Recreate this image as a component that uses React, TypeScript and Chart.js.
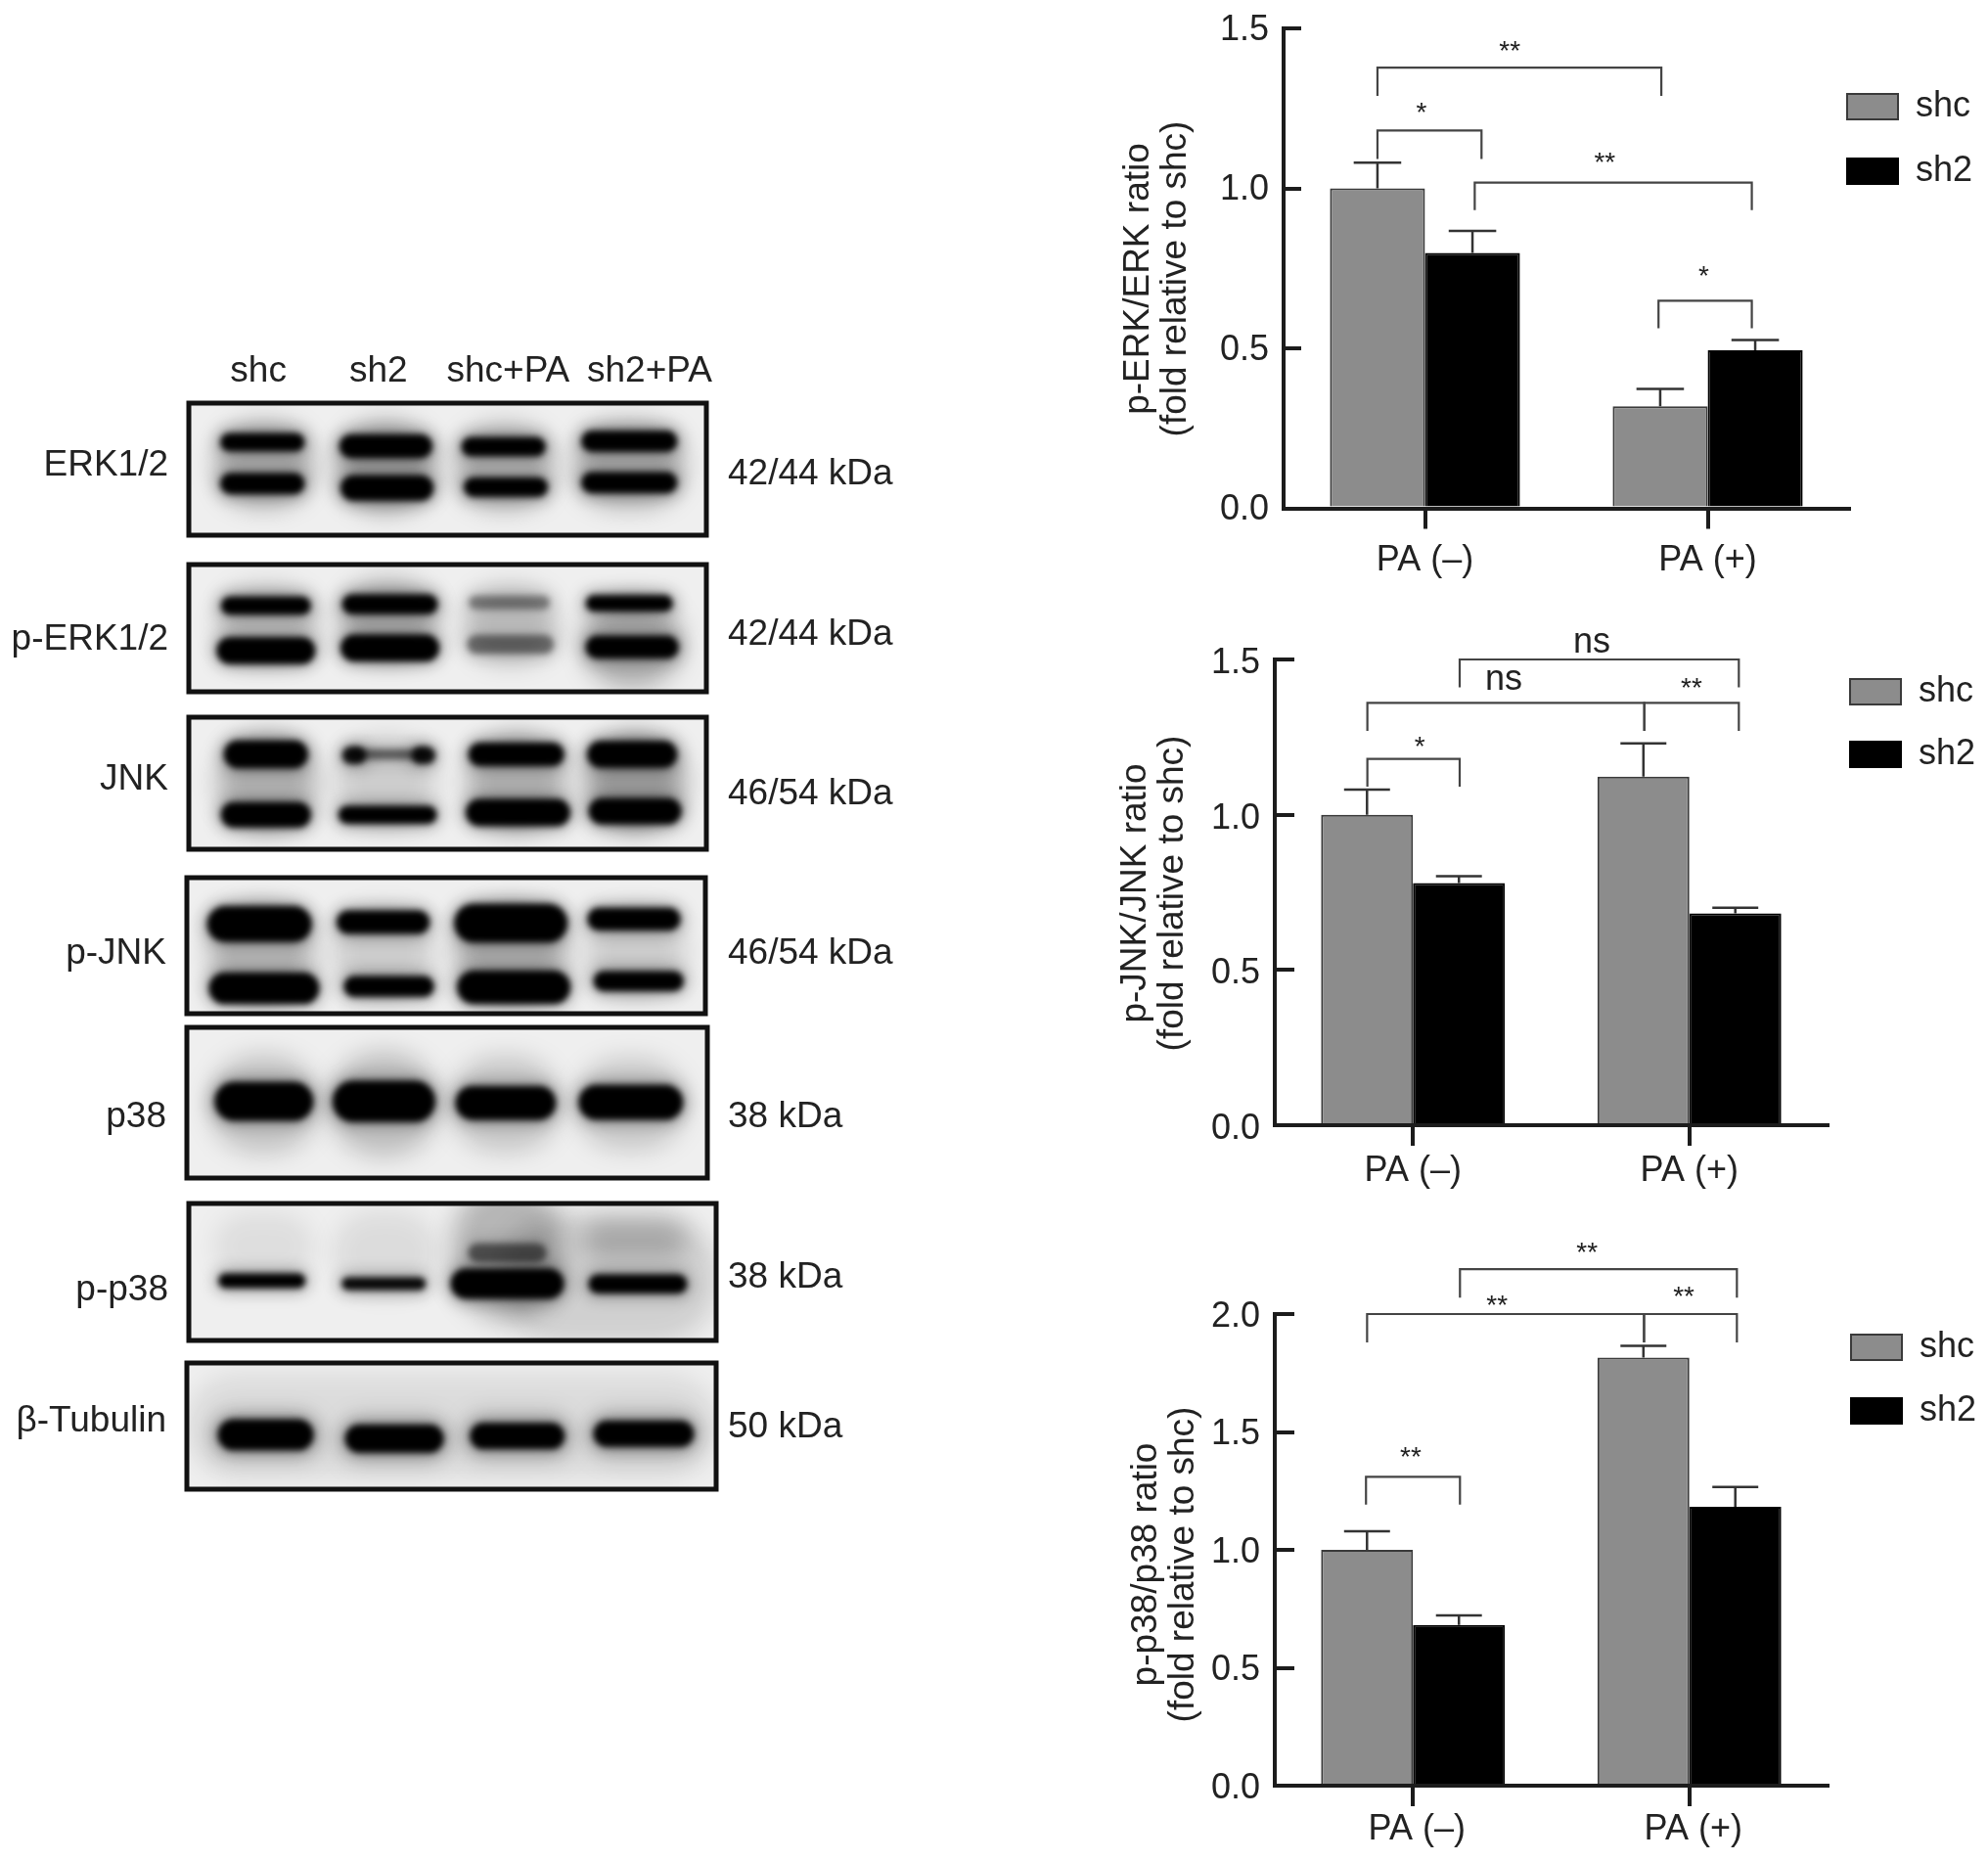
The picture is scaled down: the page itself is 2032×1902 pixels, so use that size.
import React, { useEffect, useRef } from "react";
import { Chart, registerables } from "chart.js";

Chart.register(...registerables);
Chart.defaults.font.family = '"Liberation Sans"';
Chart.defaults.color = "#222";

// ---------- bar chart data ----------
const categories = ["PA (–)", "PA (+)"];
const seriesNames = ["shc", "sh2"];

const erkShc = [1.0, 0.319];
const erkSh2 = [0.798, 0.494];
const erkShcTop = [1.08, 0.373];
const erkSh2Top = [0.867, 0.526];

const jnkShc = [1.0, 1.123];
const jnkSh2 = [0.78, 0.682];
const jnkShcTop = [1.081, 1.23];
const jnkSh2Top = [0.802, 0.7];

const p38Shc = [1.0, 1.815];
const p38Sh2 = [0.682, 1.183];
const p38ShcTop = [1.079, 1.865];
const p38Sh2Top = [0.722, 1.267];

// brackets: from category, to category, top value, drop value, label, label category, label value
type Bracket = [number, number, number, number, string, number, number];
const erkBrackets: Bracket[] = [
  [-0.168, 0.836, 1.377, 1.289, "**", 0.3, 1.44],
  [-0.168, 0.2, 1.181, 1.092, "*", -0.012, 1.248],
  [0.176, 1.156, 1.018, 0.932, "**", 0.636, 1.092],
  [0.826, 1.156, 0.649, 0.563, "*", 0.986, 0.736],
];
const jnkBrackets: Bracket[] = [
  [-0.165, 0.169, 1.18, 1.09, "*", 0.025, 1.23],
  [-0.165, 0.837, 1.36, 1.27, "ns", 0.328, 1.432],
  [0.837, 1.179, 1.36, 1.27, "**", 1.008, 1.42],
  [0.169, 1.179, 1.5, 1.41, "ns", 0.647, 1.55],
];
const p38Brackets: Bracket[] = [
  [-0.17, 0.17, 1.31, 1.192, "**", -0.008, 1.41],
  [-0.166, 0.836, 2.0, 1.88, "**", 0.304, 2.052],
  [0.836, 1.172, 2.0, 1.88, "**", 0.98, 2.087],
  [0.17, 1.172, 2.19, 2.07, "**", 0.63, 2.276],
];

// ---------- blot data: [lane position, migration position, band length, band thickness, density] ----------
type Band = [number, number, number, number, number];
const erkBands: Band[] = [
  [455, 295, 170, 190, 0.26], [665, 300, 170, 200, 0.3], [870, 300, 170, 190, 0.24], [1085, 295, 190, 190, 0.26],
  [452, 245, 140, 34, 1], [665, 254, 155, 46, 1], [868, 255, 140, 36, 1], [1085, 243, 160, 40, 1],
  [452, 337, 140, 40, 1], [667, 347, 155, 50, 1], [872, 345, 140, 36, 1], [1085, 335, 160, 40, 1],
];
const pErkBands: Band[] = [
  [460, 650, 170, 170, 0.2], [670, 640, 165, 180, 0.26], [880, 650, 160, 170, 0.2], [1090, 690, 170, 200, 0.28],
  [458, 607, 150, 34, 1], [672, 604, 160, 38, 1], [878, 600, 135, 24, 0.38], [1085, 602, 145, 30, 1],
  [458, 708, 165, 54, 1], [672, 702, 165, 54, 1], [880, 694, 145, 36, 0.45], [1090, 700, 155, 44, 1],
];
const jnkBands: Band[] = [
  [460, 1000, 170, 220, 0.26], [665, 1000, 170, 200, 0.14], [890, 1000, 170, 220, 0.26], [1095, 1000, 170, 220, 0.34],
  [458, 938, 140, 56, 1], [610, 940, 36, 32, 0.9], [730, 940, 36, 32, 0.9], [670, 938, 130, 16, 0.5],
  [890, 938, 160, 46, 1], [1090, 938, 150, 54, 1],
  [458, 1073, 150, 50, 1], [668, 1073, 165, 34, 1], [893, 1068, 175, 54, 1], [1095, 1065, 155, 52, 1],
];
const pJnkBands: Band[] = [
  [450, 1380, 180, 220, 0.24], [660, 1380, 170, 200, 0.14], [880, 1380, 190, 220, 0.28], [1095, 1380, 170, 200, 0.14],
  [447, 1316, 175, 74, 1], [660, 1312, 155, 46, 1], [880, 1314, 190, 80, 1], [1092, 1305, 155, 44, 1],
  [455, 1460, 185, 64, 1], [670, 1456, 150, 40, 1], [885, 1458, 190, 68, 1], [1100, 1444, 150, 38, 1],
];
const p38Bands: Band[] = [
  [455, 265, 190, 300, 0.18], [662, 265, 190, 320, 0.2], [872, 265, 190, 290, 0.17], [1088, 265, 190, 280, 0.16],
  [455, 257, 165, 110, 1], [662, 257, 172, 118, 1], [872, 262, 168, 95, 1], [1088, 260, 175, 98, 1],
];
const pP38Bands: Band[] = [
  [1050, 800, 380, 400, 0.13], [455, 700, 170, 200, 0.07], [665, 720, 180, 250, 0.08],
  [875, 720, 190, 420, 0.24], [875, 720, 130, 50, 0.5], [1095, 680, 180, 120, 0.2],
  [452, 806, 145, 36, 1], [662, 815, 140, 30, 0.95], [875, 815, 190, 84, 1], [1100, 816, 165, 50, 1],
];
const tubulinBands: Band[] = [
  [780, 1250, 920, 320, 0.08], [458, 1285, 190, 150, 0.14], [680, 1295, 190, 150, 0.14], [892, 1285, 190, 150, 0.14], [1110, 1280, 190, 150, 0.14],
  [458, 1278, 160, 88, 1], [680, 1290, 165, 78, 1], [892, 1282, 158, 72, 1], [1110, 1275, 168, 72, 1],
];

const laneNames = ["shc", "sh2", "shc+PA", "sh2+PA"];
const laneCentres = [445, 652, 876, 1120];

const BLOT_FONT = 37;
const TICK_FONT = 36;
const INK = "#1c1c1c";

// ---------- plugins ----------
const blotPlugin = {
  id: "blotBands",
  beforeDatasetsDraw(chart: any) {
    const { ctx, chartArea: a, scales } = chart;
    ctx.save();
    ctx.beginPath();
    ctx.rect(a.left, a.top, a.right - a.left, a.bottom - a.top);
    ctx.clip();
    ctx.fillStyle = "#efefef";
    ctx.fillRect(a.left, a.top, a.right - a.left, a.bottom - a.top);
    const bands = chart.data.datasets[0].data;
    const blob = (b: any, grow: number, alpha: number, blur: number) => {
      const x0 = scales.x.getPixelForValue(b.x - b.w / 2) - grow;
      const x1 = scales.x.getPixelForValue(b.x + b.w / 2) + grow;
      const y0 = scales.y.getPixelForValue(b.y - b.h / 2) - grow;
      const y1 = scales.y.getPixelForValue(b.y + b.h / 2) + grow;
      ctx.filter = `blur(${blur}px)`;
      ctx.fillStyle = `rgba(0,0,0,${alpha})`;
      ctx.beginPath();
      ctx.roundRect(x0, y0, x1 - x0, y1 - y0, Math.min(x1 - x0, y1 - y0) / 2);
      ctx.fill();
    };
    for (const b of bands) {
      if (b.d < 0.35) {
        blob(b, 0, b.d, 12);
      } else {
        blob(b, 5, 0.35 * b.d, 8);
        blob(b, 1.5, b.d, 3.2);
      }
    }
    ctx.filter = "none";
    ctx.restore();
    ctx.save();
    ctx.strokeStyle = "#111";
    ctx.lineWidth = 5;
    ctx.strokeRect(a.left, a.top, a.right - a.left, a.bottom - a.top);
    ctx.restore();
  },
};

const labelRoomPlugin = {
  id: "labelRoom",
  // Chart.js clips tick labels to the scale box: open the boxes up to the canvas edges.
  afterLayout(chart: any) {
    for (const s of Object.values(chart.scales) as any[]) {
      if (s.position === "left") s.left = 0;
      if (s.position === "right") s.right = chart.width;
      if (s.position === "top") s.top = 0;
      if (s.position === "bottom") s.bottom = chart.height;
    }
  },
};

const errorPlugin = {
  id: "errorBars",
  afterDatasetsDraw(chart: any) {
    const { ctx, scales } = chart;
    ctx.save();
    ctx.strokeStyle = "#333";
    ctx.lineWidth = 2.5;
    chart.data.datasets.forEach((ds: any, i: number) => {
      chart.getDatasetMeta(i).data.forEach((bar: any, j: number) => {
        const yTop = scales.y.getPixelForValue(ds.errorTops[j]);
        const half = bar.width / 4;
        ctx.beginPath();
        ctx.moveTo(bar.x, bar.y);
        ctx.lineTo(bar.x, yTop);
        ctx.moveTo(bar.x - half, yTop);
        ctx.lineTo(bar.x + half, yTop);
        ctx.stroke();
      });
    });
    ctx.restore();
  },
};

const bracketPlugin = {
  id: "brackets",
  afterDatasetsDraw(chart: any, _a: any, opts: any) {
    const { ctx, scales } = chart;
    ctx.save();
    ctx.strokeStyle = "#444";
    ctx.fillStyle = "#222";
    ctx.lineWidth = 2.2;
    ctx.textAlign = "center";
    ctx.textBaseline = "alphabetic";
    for (const [c0, c1, top, drop, label, lc, lv] of opts.items as Bracket[]) {
      const x0 = scales.x.getPixelForValue(c0);
      const x1 = scales.x.getPixelForValue(c1);
      const yt = scales.y.getPixelForValue(top);
      const yd = scales.y.getPixelForValue(drop);
      ctx.beginPath();
      ctx.moveTo(x0, yd);
      ctx.lineTo(x0, yt);
      ctx.lineTo(x1, yt);
      ctx.lineTo(x1, yd);
      ctx.stroke();
      const stars = label.includes("*");
      const size = stars ? 28 : 36;
      ctx.font = `${size}px "Liberation Sans"`;
      ctx.fillText(
        label,
        scales.x.getPixelForValue(lc),
        scales.y.getPixelForValue(lv) + size * (stars ? 0.44 : 0.26)
      );
    }
    ctx.restore();
  },
};

const legendPlacePlugin = {
  id: "legendPlace",
  afterLayout(chart: any, _a: any, opts: any) {
    const l = chart.legend;
    const w = l.width;
    const h = l.height + 40;
    l.left = opts.left;
    l.right = opts.left + w;
    l.top = opts.top;
    l.bottom = opts.top + h;
  },
};

// ---------- components ----------
function BlotPanel(props: {
  bands: Band[];
  xRange: number[];
  yRange: number[];
  box: number[];
  name: string;
  nameAt: number;
  size: string;
  sizeAt: number;
  lanes?: boolean;
}) {
  const ref = useRef<HTMLCanvasElement>(null);
  const { bands, xRange, yRange, box, name, nameAt, size, sizeAt, lanes } = props;
  const [left, top, right, bottom] = box;
  const margin = 70;
  const W = 930;
  useEffect(() => {
    const chart = new Chart(ref.current as any, {
      type: "scatter",
      data: {
        datasets: [
          {
            data: bands.map(([x, y, w, h, d]) => ({ x, y, w, h, d })) as any,
            pointRadius: 0,
            showLine: false,
          },
        ],
      },
      plugins: [blotPlugin, labelRoomPlugin],
      options: {
        animation: false,
        responsive: false,
        layout: {
          autoPadding: false,
          padding: { left, right: W - right, top: margin, bottom: margin },
        },
        plugins: { legend: { display: false }, tooltip: { enabled: false } },
        scales: {
          x: {
            type: "linear",
            position: "top",
            display: !!lanes,
            min: xRange[0],
            max: xRange[1],
            border: { display: false },
            grid: { display: false, drawTicks: false },
            afterBuildTicks: (s: any) => {
              s.ticks = laneCentres.map((value) => ({ value }));
            },
            afterFit: (s: any) => {
              s.height = 0;
            },
            ticks: {
              autoSkip: false,
              maxRotation: 0,
              padding: 10,
              font: { size: BLOT_FONT },
              color: "#222",
              callback: (v: any) => laneNames[laneCentres.indexOf(v)],
            },
          },
          y: {
            type: "linear",
            position: "left",
            reverse: true,
            min: yRange[0],
            max: yRange[1],
            border: { display: false },
            grid: { display: false, drawTicks: false },
            afterBuildTicks: (s: any) => {
              s.ticks = [{ value: nameAt }];
            },
            afterFit: (s: any) => {
              s.width = 0;
            },
            ticks: {
              autoSkip: false,
              padding: 21,
              labelOffset: 2,
              font: { size: BLOT_FONT },
              color: "#222",
              callback: () => name,
            },
          },
          yr: {
            type: "linear",
            position: "right",
            reverse: true,
            min: yRange[0],
            max: yRange[1],
            border: { display: false },
            grid: { display: false, drawTicks: false },
            afterBuildTicks: (s: any) => {
              s.ticks = [{ value: sizeAt }];
            },
            afterFit: (s: any) => {
              s.width = 0;
            },
            ticks: {
              autoSkip: false,
              padding: 744 - right,
              labelOffset: 2,
              font: { size: BLOT_FONT },
              color: "#222",
              callback: () => size,
            },
          },
        },
      } as any,
    });
    return () => chart.destroy();
  }, []);
  return (
    <canvas
      ref={ref}
      width={W}
      height={bottom - top + 2 * margin}
      style={{ position: "absolute", left: 0, top: top - margin, width: W, height: bottom - top + 2 * margin }}
    />
  );
}

function BarPanel(props: {
  shc: number[];
  sh2: number[];
  shcTop: number[];
  sh2Top: number[];
  brackets: Bracket[];
  title: string[];
  yMax: number;
  geom: {
    L: number;
    axisX: number;
    axisEnd: number;
    A: number;
    B: number;
    C: number;
    R: number;
    tick: number;
    xPad: number;
    xShift: number;
    yShift: number;
    catPct: number;
    swatchX: number;
    swatchY: number;
    rowPad: number;
  };
}) {
  const ref = useRef<HTMLCanvasElement>(null);
  const { shc, sh2, shcTop, sh2Top, brackets, title, yMax, geom } = props;
  const { L, axisX, axisEnd, A, B, C, R, tick, xPad, xShift, yShift, catPct, swatchX, swatchY, rowPad } = geom;
  const W = 2032 - L;
  const H = 2 * R;
  const canvasTop = C - R;
  const lineH = 38;
  const titleW = 2 * lineH;
  const pad = A - canvasTop;
  useEffect(() => {
    const chart = new Chart(ref.current as any, {
      type: "bar",
      data: {
        labels: categories,
        datasets: [
          {
            label: seriesNames[0],
            data: shc,
            errorTops: shcTop,
            backgroundColor: "#8c8c8c",
            borderColor: "#3a3a3a",
            borderWidth: 2,
            barPercentage: 1,
            categoryPercentage: catPct,
          },
          {
            label: seriesNames[1],
            data: sh2,
            errorTops: sh2Top,
            backgroundColor: "#000",
            borderColor: "#000",
            borderWidth: 2,
            barPercentage: 1,
            categoryPercentage: catPct,
          },
        ] as any,
      },
      plugins: [errorPlugin, bracketPlugin, legendPlacePlugin, labelRoomPlugin],
      options: {
        animation: false,
        responsive: false,
        layout: {
          autoPadding: false,
          padding: { left: 0, right: 2032 - axisEnd, top: pad, bottom: pad },
        },
        plugins: {
          tooltip: { enabled: false },
          title: {
            display: true,
            position: "left",
            text: title,
            color: "#222",
            padding: 0,
            font: { size: 37, lineHeight: lineH / 37, weight: "normal" },
          },
          legend: {
            display: true,
            position: "chartArea",
            align: "start",
            labels: {
              boxWidth: 52,
              boxHeight: 26,
              padding: rowPad,
              color: "#222",
              font: { size: 36 },
            },
          },
          legendPlace: {
            left: swatchX - L - rowPad,
            top: swatchY - canvasTop - rowPad - 5,
          },
          brackets: { items: brackets },
        },
        scales: {
          x: {
            type: "category",
            offset: true,
            border: { color: INK, width: 4 },
            grid: {
              offset: false,
              drawOnChartArea: false,
              drawTicks: true,
              tickLength: 21,
              tickWidth: 4,
              tickColor: INK,
              lineWidth: 4,
              color: INK,
            },
            afterFit: (s: any) => {
              s.height = 2 * C - A - B;
            },
            ticks: {
              autoSkip: false,
              maxRotation: 0,
              padding: xPad,
              labelOffset: xShift,
              font: { size: TICK_FONT },
              color: "#222",
            },
          },
          y: {
            type: "linear",
            min: 0,
            max: yMax,
            border: { color: INK, width: 4 },
            grid: {
              drawOnChartArea: false,
              drawTicks: true,
              tickLength: -tick,
              tickWidth: 4,
              tickColor: INK,
              lineWidth: 4,
              color: INK,
            },
            afterFit: (s: any) => {
              s.width = axisX - L - titleW;
            },
            ticks: {
              stepSize: 0.5,
              padding: tick + 15,
              labelOffset: yShift,
              font: { size: TICK_FONT },
              color: "#222",
              callback: (v: any) => Number(v).toFixed(1),
            },
          },
        },
      } as any,
    });
    return () => chart.destroy();
  }, []);
  return (
    <canvas
      ref={ref}
      width={W}
      height={H}
      style={{ position: "absolute", left: L, top: canvasTop, width: W, height: H }}
    />
  );
}

export default function App() {
  return (
    <div
      style={{
        position: "absolute",
        left: 0,
        top: 0,
        width: 2032,
        height: 1902,
        overflow: "hidden",
        background: "#fff",
      }}
    >
      <BlotPanel bands={erkBands} xRange={[325, 1218]} yRange={[158, 452]} box={[193, 412, 722, 547]} name="ERK1/2" nameAt={293} size="42/44 kDa" sizeAt={313} lanes />
      <BlotPanel bands={pErkBands} xRange={[325, 1218]} yRange={[515, 800]} box={[193, 577, 722, 707]} name="p-ERK1/2" nameAt={680} size="42/44 kDa" sizeAt={668} />
      <BlotPanel bands={jnkBands} xRange={[325, 1218]} yRange={[855, 1150]} box={[193, 733, 722, 868]} name="JNK" nameAt={990} size="46/54 kDa" sizeAt={1022} />
      <BlotPanel bands={pJnkBands} xRange={[322, 1215]} yRange={[1212, 1517]} box={[191, 897, 721, 1036]} name="p-JNK" nameAt={1378} size="46/54 kDa" sizeAt={1378} />
      <BlotPanel bands={p38Bands} xRange={[322, 1220]} yRange={[30, 492]} box={[191, 1050, 723, 1204]} name="p38" nameAt={298} size="38 kDa" sizeAt={300} />
      <BlotPanel bands={pP38Bands} xRange={[326, 1235]} yRange={[568, 990]} box={[193, 1230, 732, 1370]} name="p-p38" nameAt={830} size="38 kDa" sizeAt={790} />
      <BlotPanel bands={tubulinBands} xRange={[322, 1235]} yRange={[1055, 1447]} box={[191, 1393, 732, 1522]} name="β-Tubulin" nameAt={1230} size="50 kDa" sizeAt={1250} />

      <BarPanel
        shc={erkShc}
        sh2={erkSh2}
        shcTop={erkShcTop}
        sh2Top={erkSh2Top}
        brackets={erkBrackets}
        title={["p-ERK/ERK ratio", "(fold relative to shc)"]}
        yMax={1.5}
        geom={{ L: 1145, axisX: 1312, axisEnd: 1890, A: 29, B: 519.5, C: 285, R: 320, tick: 18, xPad: 11, xShift: 0, yShift: 2, catPct: 0.672, swatchX: 1888, swatchY: 96, rowPad: 30 }}
      />
      <BarPanel
        shc={jnkShc}
        sh2={jnkSh2}
        shcTop={jnkShcTop}
        sh2Top={jnkSh2Top}
        brackets={jnkBrackets}
        title={["p-JNK/JNK ratio", "(fold relative to shc)"]}
        yMax={1.5}
        geom={{ L: 1142, axisX: 1303, axisEnd: 1868, A: 674, B: 1150, C: 913, R: 310, tick: 20, xPad: 4, xShift: 0, yShift: 4, catPct: 0.665, swatchX: 1891, swatchY: 694, rowPad: 28 }}
      />
      <BarPanel
        shc={p38Shc}
        sh2={p38Sh2}
        shcTop={p38ShcTop}
        sh2Top={p38Sh2Top}
        brackets={p38Brackets}
        title={["p-p38/p38 ratio", "(fold relative to shc)"]}
        yMax={2}
        geom={{ L: 1153, axisX: 1303, axisEnd: 1868, A: 1343, B: 1825, C: 1599, R: 335, tick: 20, xPad: 2, xShift: 4, yShift: 3, catPct: 0.665, swatchX: 1892, swatchY: 1364, rowPad: 29 }}
      />
    </div>
  );
}
